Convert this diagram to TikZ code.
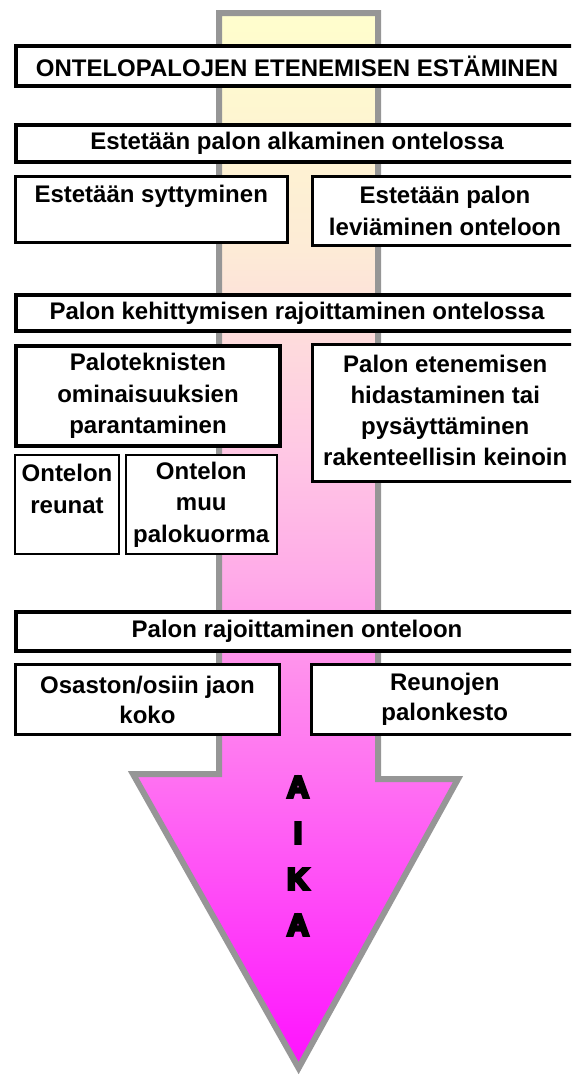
\documentclass[tikz,border=0pt]{standalone}
\usepackage{fontspec}
\setmainfont{Liberation Sans}
\newfontface\heavyfont{Liberation Sans Bold}[FakeBold=10]
\newcommand\mybxfont{\bfseries\fontsize{24}{31.5}\selectfont}
\definecolor{cA}{RGB}{255,255,204}
\definecolor{cB}{RGB}{253,235,214}
\definecolor{cC}{RGB}{255,200,228}
\definecolor{cD}{RGB}{255,170,232}
\definecolor{cE}{RGB}{255,112,242}
\definecolor{cF}{RGB}{255,14,255}
\definecolor{arrowgray}{RGB}{150,150,150}
\tikzset{
  basebox/.style={draw=black, fill=white, font=\mybxfont, align=center,
    inner sep=0pt, outer sep=0pt, anchor=north west},
  hdr/.style={basebox, line width=4.5pt},
  midbox/.style={basebox, line width=3pt},
  thinbox/.style={basebox, line width=2pt},
  timeletter/.style={font=\heavyfont\fontsize{30}{30}\selectfont, inner sep=0pt}
}
\begin{document}
\begin{tikzpicture}[x=1pt, y=-1pt]
\useasboundingbox (0,0) rectangle (571,1077);
\clip (0,0) rectangle (571,1077);
% arrow body with gradient
\begin{scope}
  \clip (219,13) -- (378,13) -- (378,779) -- (458,779) -- (298.6,1068) -- (133,774) -- (219,774) -- cycle;
  \fill[top color=cA, bottom color=cB] (100,0) rectangle (500,250);
  \fill[top color=cB, bottom color=cC] (100,249.5) rectangle (500,450);
  \fill[top color=cC, bottom color=cD] (100,449.5) rectangle (500,580);
  \fill[top color=cD, bottom color=cE] (100,579.5) rectangle (500,780);
  \fill[top color=cE, bottom color=cF] (100,779.5) rectangle (500,1077);
\end{scope}
\draw[arrowgray, line width=6pt] (219,13) -- (378,13) -- (378,779) -- (458,779) -- (298.6,1068) -- (133,774) -- (219,774) -- cycle;
% boxes
\node[hdr, minimum width=562pt, minimum height=40pt] (title) at (16,46) {ONTELOPALOJEN ETENEMISEN ESTÄMINEN};
\node[hdr, minimum width=562pt, minimum height=37pt] (alku) at (16,125) {Estetään palon alkaminen ontelossa};
\node[midbox, minimum width=271.5pt, minimum height=66pt] (sytt) at (15.5,176.5) {Estetään syttyminen\\~};
\node[midbox, minimum width=266pt, minimum height=69pt] (levi) at (312,176.5) {Estetään palon\\leviäminen onteloon};
\node[hdr, minimum width=562pt, minimum height=36pt] (kehi) at (16,295) {Palon kehittymisen rajoittaminen ontelossa};
\node[basebox, line width=4pt, minimum width=264pt, minimum height=100pt] (palot) at (16,346) {Paloteknisten\\ominaisuuksien\\parantaminen};
\node[midbox, minimum width=265.5pt, minimum height=137pt] (hida) at (312.5,344.5) {\raisebox{5pt}{\begin{tabular}{@{}c@{}}Palon etenemisen\\[-0.5pt]hidastaminen tai\\[-0.5pt]pysäyttäminen\\[-0.5pt]rakenteellisin keinoin\end{tabular}}};
\node[thinbox, minimum width=104pt, minimum height=99pt] (reun) at (15,455) {Ontelon\\reunat\\~};
\node[thinbox, minimum width=150.5pt, minimum height=99pt] (muu) at (126,455) {Ontelon\\muu\\palokuorma};
\node[hdr, minimum width=562pt, minimum height=39pt] (rajo) at (16,612) {Palon rajoittaminen onteloon};
\node[midbox, minimum width=264pt, minimum height=70pt, font=\bfseries\fontsize{24}{30}\selectfont] (osas) at (15.5,664.5) {Osaston/osiin jaon\\koko};
\node[midbox, minimum width=266.5pt, minimum height=70pt, font=\bfseries\fontsize{24}{30}\selectfont] (reunk) at (311.5,664.5) {Reunojen\\palonkesto};
% AIKA
\node[timeletter] (t1) at (298,787) {A};
\node[timeletter] (t2) at (298,833) {I};
\node[timeletter] (t3) at (298,879) {K};
\node[timeletter] (t4) at (298,925) {A};
\end{tikzpicture}
\end{document}
